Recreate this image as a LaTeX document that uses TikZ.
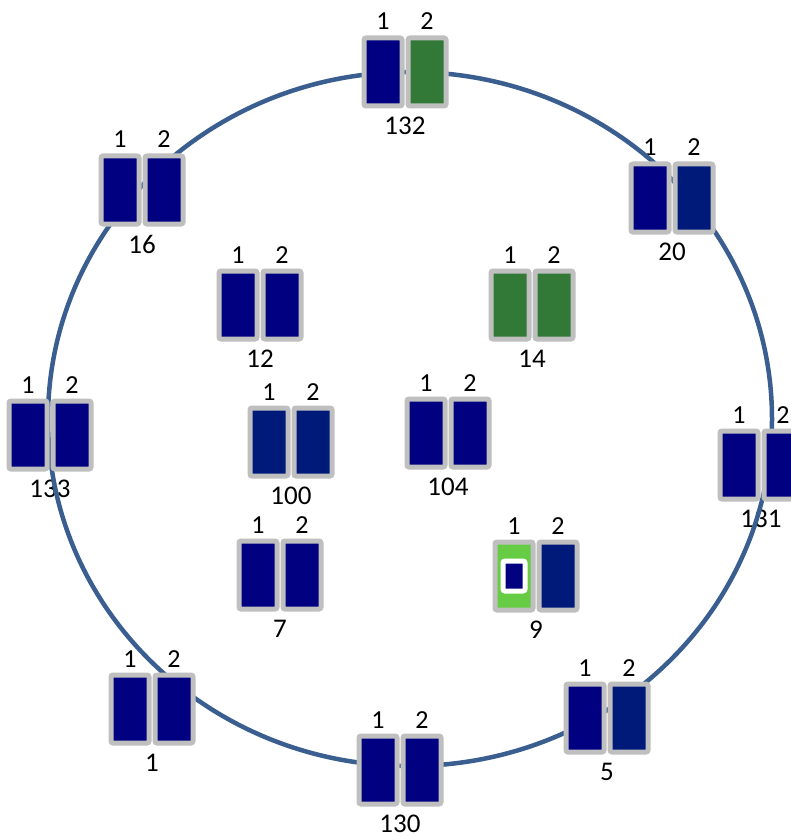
\documentclass[tikz,border=0pt]{standalone}
\usepackage{fontspec}
\setmainfont{Carlito}
\usetikzlibrary{positioning,calc}
\definecolor{portnavy}{RGB}{0,0,128}
\definecolor{portblue}{RGB}{0,26,122}
\definecolor{portgreen}{RGB}{50,121,56}
\definecolor{portlime}{RGB}{102,204,68}
\definecolor{portframe}{RGB}{191,191,191}
\definecolor{ringblue}{RGB}{58,94,143}
\pgfdeclarelayer{labels}
\pgfdeclarelayer{ring}
\pgfsetlayers{labels,ring,main}
\tikzset{
  sw port/.style={draw=portframe,line width=5pt,rounded corners=2pt,
    minimum width=38pt,minimum height=68pt,inner sep=0pt},
  sw inset/.style={draw=white,line width=5pt,rounded corners=2pt,
    fill=portnavy,minimum width=22pt,minimum height=30pt,inner sep=0pt},
  sw num/.style={font=\fontsize{26}{28}\selectfont,inner sep=0pt,anchor=base},
  sw name/.style={font=\fontsize{27}{29}\selectfont,inner sep=0pt,anchor=north},
  ring/.style={ringblue,line width=4.5pt}
}
% #1 name, #2 x, #3 y, #4 port 1 colour, #5 port 2 colour, #6 label
\newcommand{\swpair}[6]{%
  \node[sw port,fill=#4] (#1-p1) at (#2-22,#3) {};
  \node[sw port,fill=#5] (#1-p2) at (#2+22,#3) {};
  \begin{pgfonlayer}{labels}
    \node[sw num] (#1-n1) at ([yshift=5.5pt]#1-p1.north) {1};
    \node[sw num] (#1-n2) at ([yshift=5.5pt]#1-p2.north) {2};
    \node[sw name] (#1-name) at ([yshift=-8.5pt]$(#1-p1.south)!0.5!(#1-p2.south)$) {#6};
  \end{pgfonlayer}
}

\begin{document}
\begin{tikzpicture}[x=1pt,y=-1pt]
  \useasboundingbox (0,0) rectangle (791,837);

  % ring
  \begin{pgfonlayer}{ring}
    \draw[ring] (410,419) ellipse [x radius=362pt,y radius=347pt];
  \end{pgfonlayer}

  % switches on the ring
  \swpair{s132}{405}{72}{portnavy}{portgreen}{132}
  \swpair{s20}{672}{198}{portnavy}{portblue}{20}
  \swpair{s131}{761}{465}{portnavy}{portnavy}{131}
  \swpair{s5}{607}{718}{portnavy}{portblue}{5}
  \swpair{s130}{400}{770}{portnavy}{portnavy}{130}
  \swpair{s1}{152}{709}{portnavy}{portnavy}{1}
  \swpair{s133}{50}{435}{portnavy}{portnavy}{133}
  \swpair{s16}{142}{190}{portnavy}{portnavy}{16}

  % switches inside
  \swpair{s12}{260}{305}{portnavy}{portnavy}{12}
  \swpair{s14}{532}{305}{portgreen}{portgreen}{14}
  \swpair{s100}{291}{442}{portblue}{portblue}{100}
  \swpair{s104}{448}{433}{portnavy}{portnavy}{104}
  \swpair{s7}{280}{575}{portnavy}{portnavy}{7}
  \swpair{s9}{536}{576}{portlime}{portblue}{9}
  \node[sw inset] (s9-inset) at (s9-p1) {};
\end{tikzpicture}
\end{document}
